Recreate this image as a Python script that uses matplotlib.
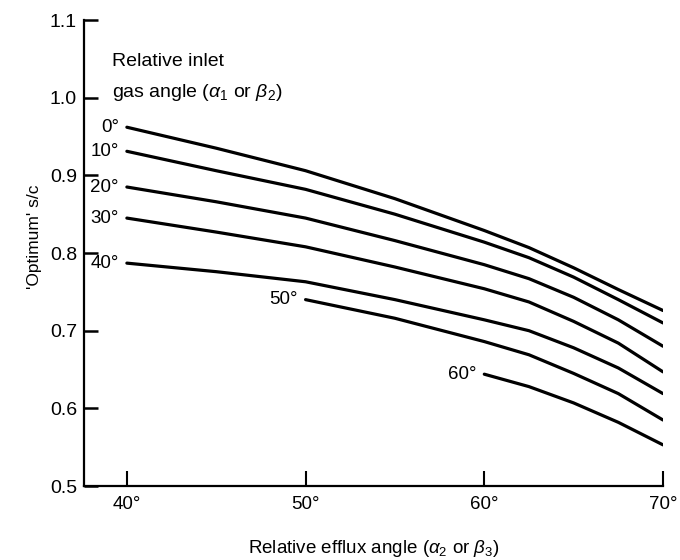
import matplotlib
matplotlib.use("Agg")
import matplotlib.pyplot as plt


# relative efflux angle (deg) at which each curve was read
EFFLUX_FULL = [40, 45, 50, 55, 60, 62.5, 65, 67.5, 70]
EFFLUX_50 = [50, 55, 60, 62.5, 65, 67.5, 70]
EFFLUX_60 = [60, 62.5, 65, 67.5, 70]

# optimum s/c, one list per inlet gas angle
SC_0 = [0.962, 0.935, 0.906, 0.870, 0.829, 0.807, 0.781, 0.753, 0.726]
SC_10 = [0.931, 0.906, 0.882, 0.850, 0.814, 0.794, 0.769, 0.740, 0.710]
SC_20 = [0.885, 0.866, 0.845, 0.816, 0.785, 0.767, 0.743, 0.714, 0.680]
SC_30 = [0.845, 0.827, 0.808, 0.782, 0.754, 0.737, 0.712, 0.684, 0.647]
SC_40 = [0.787, 0.776, 0.763, 0.740, 0.714, 0.700, 0.678, 0.652, 0.619]
SC_50 = [0.740, 0.716, 0.686, 0.669, 0.645, 0.619, 0.585]
SC_60 = [0.644, 0.628, 0.607, 0.582, 0.553]

INLET_LABELS = ["0°", "10°", "20°", "30°", "40°", "50°", "60°"]

Y_TICKS = [0.5, 0.6, 0.7, 0.8, 0.9, 1.0, 1.1]
X_TICKS = [40, 50, 60, 70]
X_TICK_LABELS = ["40°", "50°", "60°", "70°"]


plt.rcParams["font.family"] = ["Liberation Sans", "DejaVu Sans"]
plt.rcParams["mathtext.fontset"] = "custom"
plt.rcParams["mathtext.rm"] = "Liberation Sans"
plt.rcParams["mathtext.it"] = "Liberation Sans:italic"

fig = plt.figure(figsize=(6.8, 5.6), dpi=100)
ax = fig.add_axes([0.1235, 0.1321, 0.8515, 0.8321])

curves = [
    (EFFLUX_FULL, SC_0),
    (EFFLUX_FULL, SC_10),
    (EFFLUX_FULL, SC_20),
    (EFFLUX_FULL, SC_30),
    (EFFLUX_FULL, SC_40),
    (EFFLUX_50, SC_50),
    (EFFLUX_60, SC_60),
]

for (xs, ys), label in zip(curves, INLET_LABELS):
    ax.plot(xs, ys, color="black", lw=2.3, solid_capstyle="round",
            solid_joinstyle="round")
    ax.text(xs[0] - 0.45, ys[0], label, ha="right", va="center",
            fontsize=13.5, color="black")

# two-line note, spaced out like the printed figure
ax.text(0.048, 0.912, "Relative inlet", transform=ax.transAxes,
        ha="left", va="center", fontsize=14)
ax.text(0.048, 0.845, "gas angle ($\\alpha_1$ or $\\beta_2$)",
        transform=ax.transAxes, ha="left", va="center", fontsize=14)

ax.set_xlim(37.6, 70)
ax.set_ylim(0.5, 1.1)
ax.set_xticks(X_TICKS)
ax.set_xticklabels(X_TICK_LABELS)
ax.set_yticks(Y_TICKS)
ax.set_yticklabels([f"{v:.1f}" for v in Y_TICKS])

ax.tick_params(axis="x", direction="in", length=11, width=1.5, pad=7,
               labelsize=13.5)
ax.tick_params(axis="y", direction="in", length=10, width=1.8, pad=5,
               labelsize=14)

for side in ["top", "right"]:
    ax.spines[side].set_visible(False)
for side in ["left", "bottom"]:
    ax.spines[side].set_linewidth(1.6)

ax.set_xlabel("Relative efflux angle ($\\alpha_2$ or $\\beta_3$)",
              fontsize=13.5, labelpad=18)
ax.set_ylabel("'Optimum' s/c", fontsize=12.5)
ax.yaxis.set_label_coords(-0.073, 0.534)

fig.savefig("out.png", dpi=100)
